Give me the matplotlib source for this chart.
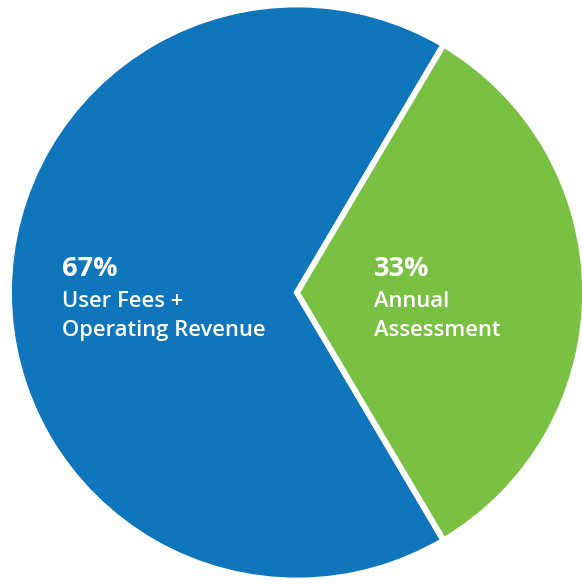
import matplotlib.pyplot as plt

shares = [67, 33]
pct_labels = ["67%", "33%"]
names = ["User Fees +\nOperating Revenue", "Annual\nAssessment"]
colours = ["#0F76BC", "#7AC143"]

W, H = 582, 584
fig = plt.figure(figsize=(W / 100, H / 100), dpi=100)

# pie centre and radius in pixels
cx, cy, r = 297, 292.5, 288
ax = fig.add_axes([(cx - r) / W, (H - cy - r) / H, 2 * r / W, 2 * r / H])
ax.pie(shares, colors=colours, startangle=shares[1] / 100 * 360 / 2,
       radius=1, wedgeprops=dict(edgecolor="white", linewidth=4.2))
ax.set_xlim(-1, 1)
ax.set_ylim(-1, 1)
ax.set_aspect("auto")
ax.axis("off")


def px(x, y):
    return (x - cx) / r, (cy - y) / r


# labels: left edge of each block, baselines in pixels
for left, pct, name in [(62, pct_labels[0], names[0]), (374, pct_labels[1], names[1])]:
    ax.text(*px(left, 276), pct, color="white", fontsize=19.5,
            fontweight="bold", family="Open Sans", va="baseline", ha="left")
    for i, line in enumerate(name.split("\n")):
        ax.text(*px(left, 307 + 29 * i), line, color="white", fontsize=15.8,
                fontweight="semibold", family="Open Sans", va="baseline", ha="left")

fig.savefig("out.png", dpi=100)
